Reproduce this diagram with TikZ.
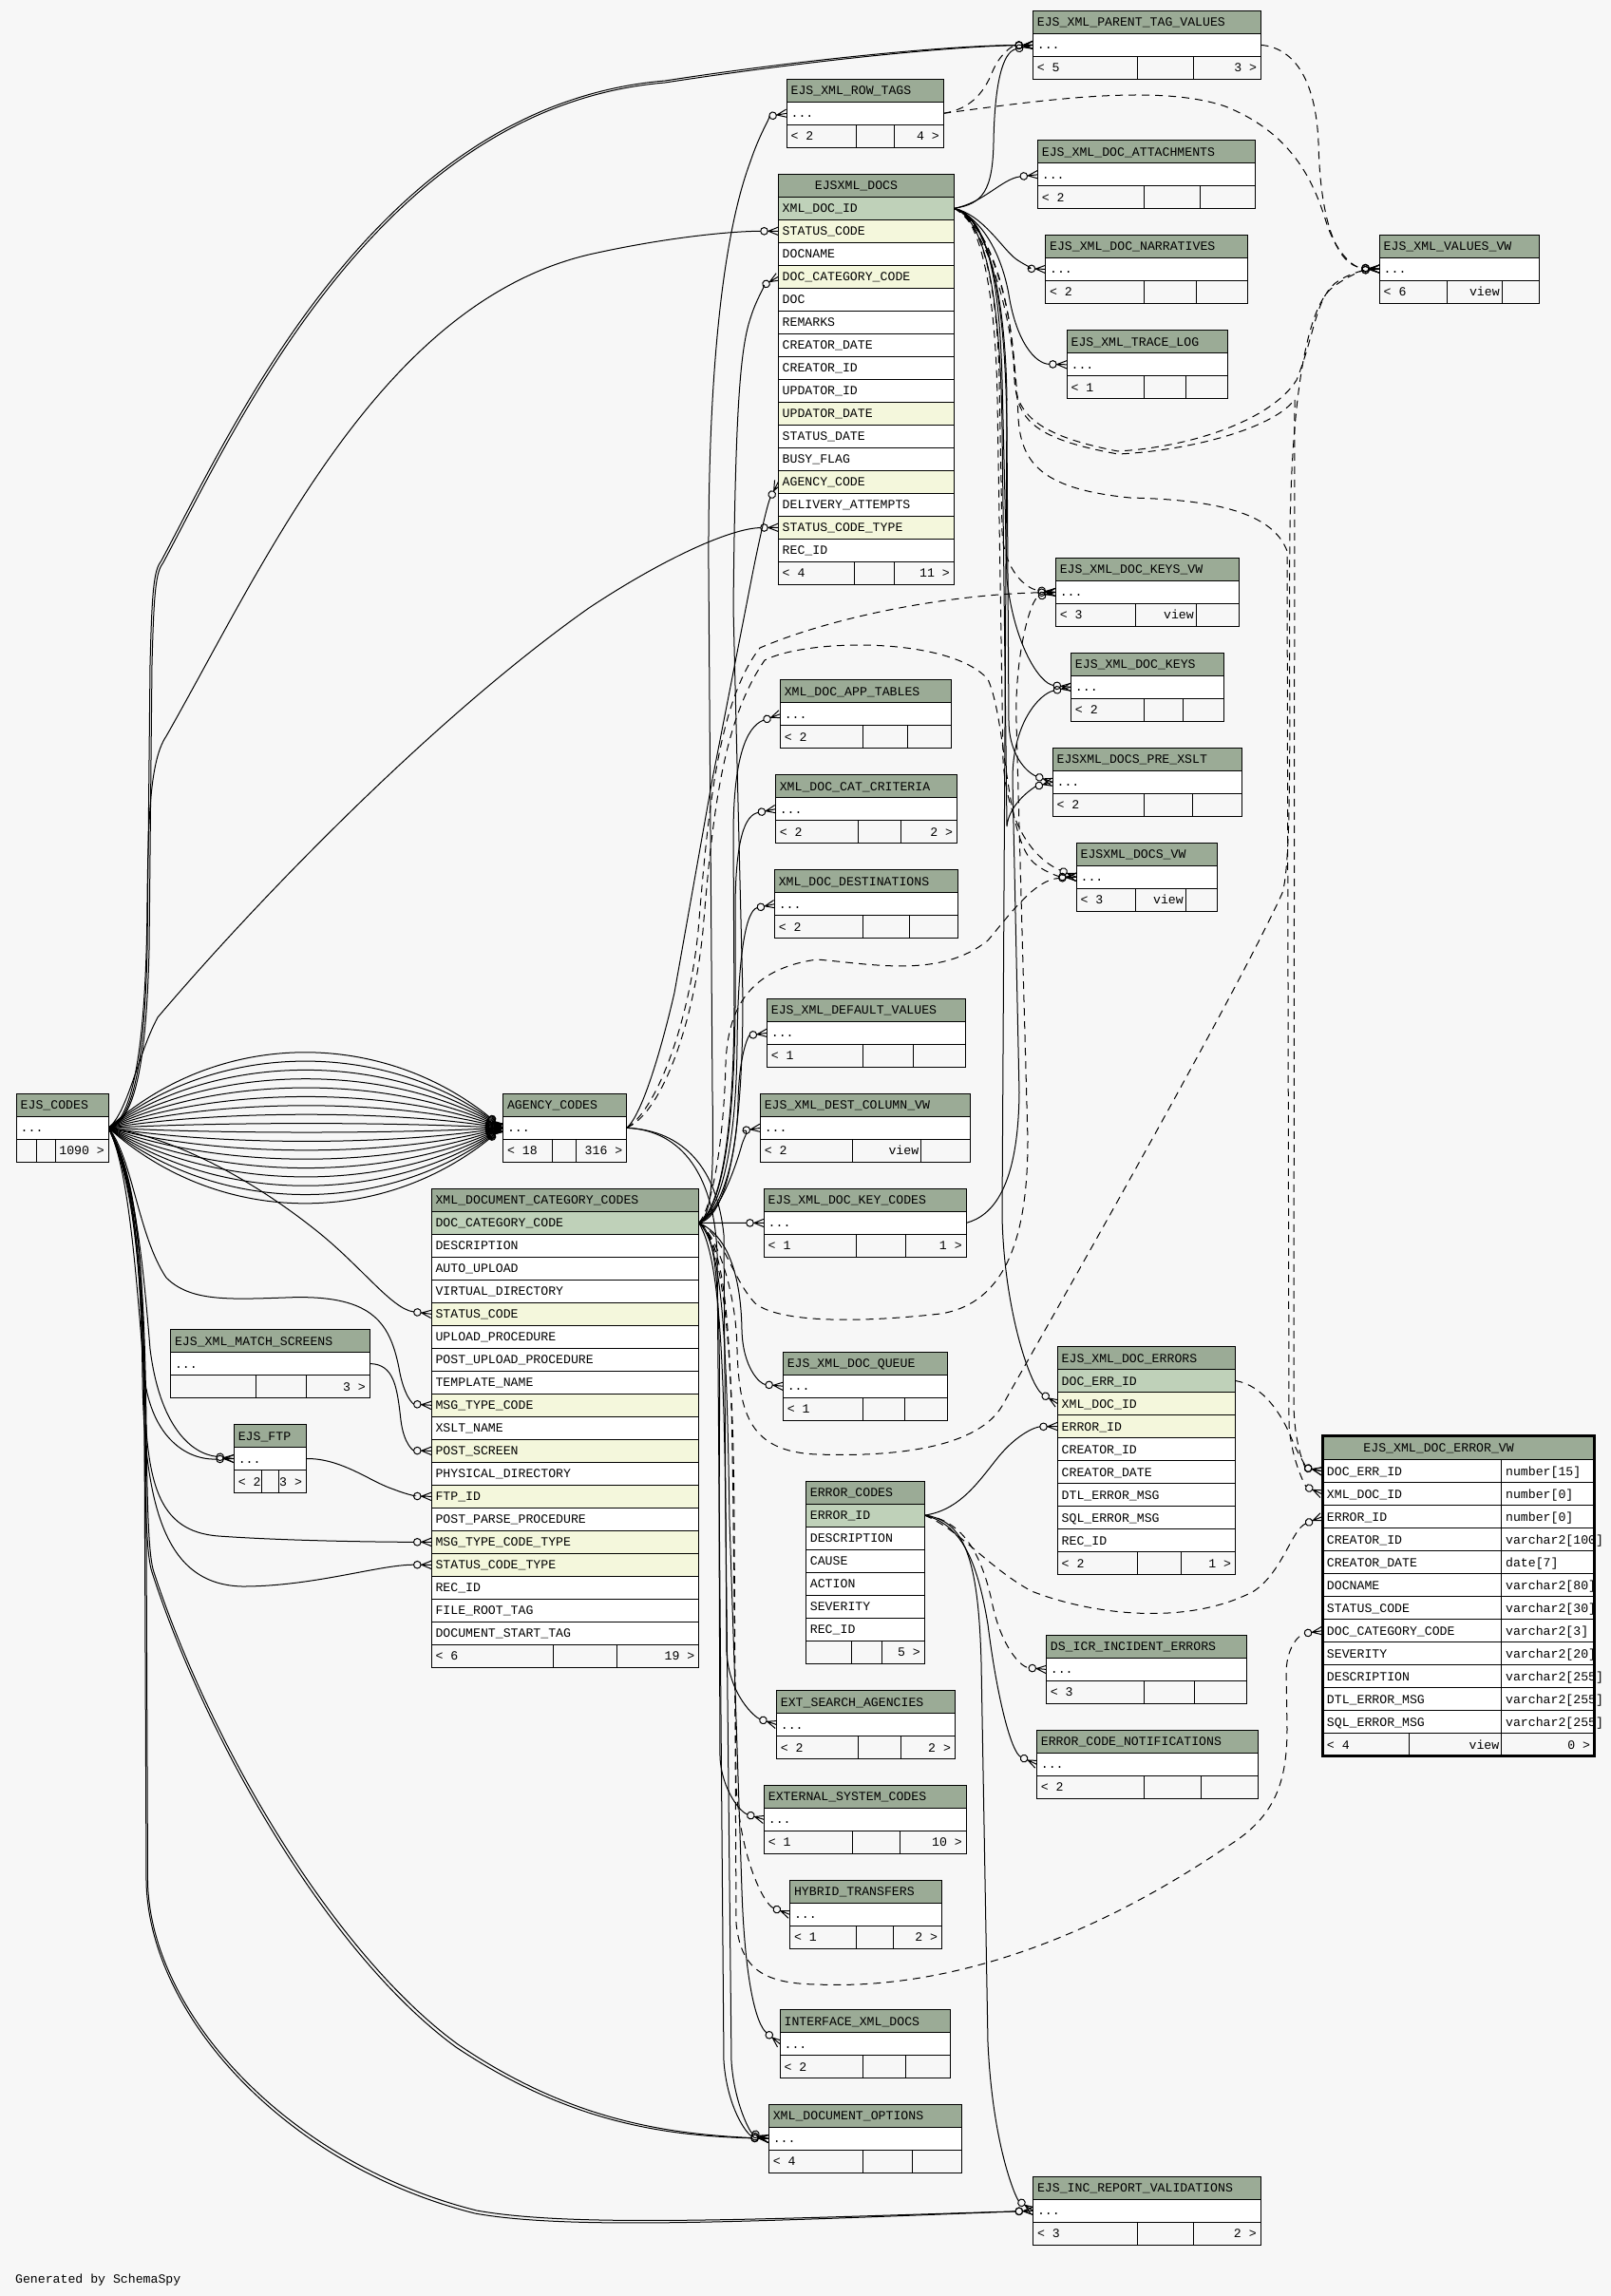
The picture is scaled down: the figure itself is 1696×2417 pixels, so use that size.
\documentclass[tikz,border=0pt]{standalone}
\usepackage{fontspec}
\setmonofont{Liberation Mono}
\usetikzlibrary{arrows.meta}
\definecolor{bgc}{RGB}{247,247,247}
\definecolor{hdrc}{RGB}{155,171,150}
\definecolor{pkc}{RGB}{191,209,185}
\definecolor{fkc}{RGB}{244,247,220}
\pgfdeclarearrow{
  name = crowodot,
  setup code = {
    \pgfarrowssettipend{0pt}
    \pgfarrowssetlineend{-9.3pt}
    \pgfarrowssetbackend{-9.3pt}
    \pgfarrowssetvisualbackend{-9.3pt}
    \pgfarrowsupperhullpoint{0pt}{2.2pt}
    \pgfarrowsupperhullpoint{-9.3pt}{2.2pt}
  },
  drawing code = {
    \pgfsetdash{}{0pt}
    \pgfpathmoveto{\pgfqpoint{0pt}{2.1pt}}
    \pgfpathlineto{\pgfqpoint{-5.2pt}{0pt}}
    \pgfpathlineto{\pgfqpoint{0pt}{-2.1pt}}
    \pgfpathmoveto{\pgfqpoint{-5.5pt}{0pt}}
    \pgfpathlineto{\pgfqpoint{0pt}{0pt}}
    \pgfusepathqstroke
    \pgfpathcircle{\pgfqpoint{-7.4pt}{0pt}}{1.9pt}
    \pgfusepathqstroke
  }
}
\newcommand\erfont{\ttfamily\fontsize{6.6}{7}\selectfont}
\tikzset{
  tl/.style={draw=black, line width=0.5pt},
  tt/.style={anchor=base west, inner sep=0pt, font=\erfont},
  ttr/.style={anchor=base east, inner sep=0pt, font=\erfont},
  fk/.style={draw=black, line width=0.5pt, -{crowodot[]}},
  impl/.style={fk, dash pattern=on 4pt off 3pt},
}
% simple table: id, x, y, w, title, div1, div2, left, right
\newcommand\ersimpleX[9]{%
  \draw[tl,fill=hdrc] (#2,#3) rectangle ++(#4,24);
  \node[tt] (#1-h) at (#2+4,#3+16.5) {#5};
  \draw[tl,fill=white] (#2,#3+24) rectangle ++(#4,24);
  \node[tt] (#1-r) at (#2+4,#3+40.5) {...};
  \draw[tl,fill=bgc] (#2,#3+48) rectangle ++(#4,24);
  \draw[tl] (#6,#3+48) -- ++(0,24) (#7,#3+48) -- ++(0,24);
  \node[tt] (#1-fl) at (#2+4,#3+64.5) {#8};
  \node[ttr] (#1-fm) at (#7-2,#3+64.5) {\ermid};
  \node[ttr] (#1-fr) at (#2+#4-4,#3+64.5) {#9};
}
\newcommand\ersimple{\def\ermid{}\ersimpleX}
\newcommand\ersimplev{\def\ermid{view}\ersimpleX}
% full table: id, x, y, w, title x, title, rows
\newcommand\ertab[7]{%
  \draw[tl,fill=hdrc] (#2,#3) rectangle ++(#4,24);
  \node[tt] (#1-h) at (#5,#3+16.5) {#6};
  \foreach[count=\i] \rc/\rt in {#7} {
    \draw[tl,fill=\rc] (#2,#3+24*\i) rectangle ++(#4,24);
    \node[tt] (#1-r\i) at (#2+4,#3+24*\i+16.5) {\rt};
  }
}
% footer: id, x, y, w, div1, div2, left, mid, right
\newcommand\erfoot[9]{%
  \draw[tl,fill=bgc] (#2,#3) rectangle ++(#4,24);
  \draw[tl] (#5,#3) -- ++(0,24) (#6,#3) -- ++(0,24);
  \node[tt] (#1-fl) at (#2+4,#3+16.5) {#7};
  \node[ttr] (#1-fm) at (#6-2,#3+16.5) {#8};
  \node[ttr] (#1-fr) at (#2+#4-4,#3+16.5) {#9};
}
\begin{document}
\begin{tikzpicture}[x=0.5pt,y=-0.5pt]
\useasboundingbox (0,0) rectangle (1696,2417);
\fill[bgc] (0,0) rectangle (1696,2417);

% ---------- anchors ----------
\coordinate (EJS-out) at (114.3,1187.3);
\coordinate (AG-in) at (529.6,1187.3);
\coordinate (AG-out) at (659.7,1187.3);
\coordinate (XD-out) at (735.7,1287.3);
\coordinate (DOCS-out) at (1004.3,219.3);
\coordinate (EC-out) at (973.3,1595.1);
\coordinate (ERRS-out) at (1300.5,1453.5);
\coordinate (FTP-out) at (322.4,1535.5);
\coordinate (MS-out) at (389.3,1435.5);
\coordinate (ROWT-out) at (993.2,119.3);
\coordinate (PTV-out) at (1327.5,47.4);
\coordinate (KC-out) at (1017.1,1287.4);
\coordinate (PTV-in) at (1087.5,47.4);
\coordinate (ROWT-in) at (828.2,119.3);
\coordinate (DOCS-sc) at (819.3,243.3);
\coordinate (DOCS-dcc) at (819.3,291.3);
\coordinate (DOCS-ag) at (819.3,507.3);
\coordinate (DOCS-sct) at (819.3,555.3);
\coordinate (ATT-in) at (1092.5,183.8);
\coordinate (NARR-in) at (1100.7,283.4);
\coordinate (TRACE-in) at (1123.2,383.8);
\coordinate (VALVW-in) at (1452.3,283.1);
\coordinate (KEYSVW-in) at (1111.4,623.4);
\coordinate (KEYS-in) at (1127.5,723.3);
\coordinate (PRE-in) at (1108.2,823.3);
\coordinate (DOCSVW-in) at (1133.2,923.3);
\coordinate (APP-in) at (821.4,751.7);
\coordinate (CRIT-in) at (816.4,851.7);
\coordinate (DEST-in) at (815.4,951.7);
\coordinate (DEFV-in) at (807.5,1087.4);
\coordinate (DCVW-in) at (800.4,1187.4);
\coordinate (KC-in) at (804.3,1287.4);
\coordinate (QUEUE-in) at (824.4,1459.2);
\coordinate (ERRS-xid) at (1113.3,1477.5);
\coordinate (ERRS-eid) at (1113.3,1501.5);
\coordinate (DSICR-in) at (1101.5,1757.4);
\coordinate (ECN-in) at (1091.5,1857.3);
\coordinate (EXTS-in) at (817.5,1815.5);
\coordinate (EXTSYS-in) at (804.5,1915.4);
\coordinate (HYB-in) at (831.6,2015.4);
\coordinate (IXD-in) at (821.2,2151.7);
\coordinate (XDO-in) at (809.4,2251.4);
\coordinate (INC-in) at (1087.6,2327.3);
\coordinate (VW-de) at (1391.7,1548.7);
\coordinate (VW-xid) at (1391.7,1572.7);
\coordinate (VW-eid) at (1391.7,1596.7);
\coordinate (VW-dcc) at (1391.7,1716.7);
\coordinate (XD-sc) at (454.1,1383.3);
\coordinate (XD-mtc) at (454.1,1479.3);
\coordinate (XD-ps) at (454.1,1527.3);
\coordinate (XD-ftp) at (454.1,1575.3);
\coordinate (XD-mtct) at (454.1,1623.3);
\coordinate (XD-sct) at (454.1,1647.3);
\coordinate (FTP-in) at (246.4,1535.5);

% ---------- EJS_CODES connectors ----------
\foreach \k in {0,...,17} {
  \pgfmathsetmacro\hh{(-78+\k*9.1765)*1.3333}
  \draw[fk] (EJS-out) .. controls (230,{1187.3+(\hh)}) and (400,{1187.3+(\hh)}) .. (AG-in);
}
\draw[fk] (EJS-out) .. controls (140,1180) and (152,1120) .. (155,1000) -- (158,700) .. controls (160,620) and (162,600) .. (170,590) .. controls (250,440) and (400,110) .. (700,85) .. controls (850,62) and (1000,48) .. (PTV-in);
\draw[fk] (EJS-out) .. controls (142,1180) and (154,1120) .. (157,1000) -- (160,700) .. controls (162,622) and (164,602) .. (172,592) .. controls (252,442) and (402,112) .. (700,87) .. controls (850,64) and (1000,49) .. (PTV-in);
\draw[fk] (EJS-out) .. controls (140,1180) and (154,1100) .. (155,950) .. controls (156,860) and (158,800) .. (175,775) .. controls (280,590) and (400,320) .. (620,268) .. controls (700,250) and (770,243.3) .. (DOCS-sc);
\draw[fk] (EJS-out) .. controls (135,1170) and (145,1110) .. (166,1071) .. controls (260,960) and (450,760) .. (620,640) .. controls (700,587) and (770,556) .. (DOCS-sct);
\draw[fk] (EJS-out) .. controls (170,1195) and (250,1230) .. (330,1293) .. controls (380,1332) and (412,1378) .. (XD-sc);
\draw[fk] (EJS-out) .. controls (140,1220) and (145,1300) .. (175,1345) .. controls (200,1370) and (240,1368) .. (300,1366) .. controls (390,1362) and (410,1390) .. (420,1440) .. controls (425,1470) and (435,1478) .. (XD-mtc);
\draw[fk] (MS-out) .. controls (415,1436) and (418,1460) .. (422,1495) .. controls (425,1520) and (435,1527) .. (XD-ps);
\draw[fk] (FTP-out) .. controls (360,1535) and (390,1560) .. (415,1568) .. controls (430,1574) and (440,1575) .. (XD-ftp);
\draw[fk] (EJS-out) .. controls (140,1230) and (150,1300) .. (152,1450) .. controls (153,1560) and (165,1612) .. (230,1617) .. controls (300,1622) and (400,1623.3) .. (XD-mtct);
\draw[fk] (EJS-out) .. controls (138,1230) and (148,1300) .. (150,1450) .. controls (152,1600) and (180,1668) .. (255,1670) .. controls (330,1670) and (400,1647) .. (XD-sct);
\draw[fk] (EJS-out) .. controls (140,1230) and (150,1320) .. (158,1420) .. controls (168,1500) and (200,1530) .. (FTP-in);
\draw[fk] (EJS-out) .. controls (136,1230) and (144,1350) .. (152,1450) .. controls (160,1512) and (195,1537) .. (FTP-in);
\draw[fk] (EJS-out) .. controls (140,1240) and (150,1320) .. (152,1500) .. controls (153,1600) and (155,1640) .. (160,1655) .. controls (220,1840) and (350,2060) .. (480,2155) .. controls (600,2235) and (700,2248) .. (XDO-in);
\draw[fk] (EJS-out) .. controls (142,1240) and (152,1320) .. (154,1500) .. controls (155,1600) and (157,1640) .. (162,1655) .. controls (222,1838) and (352,2057) .. (482,2152) .. controls (600,2232) and (700,2246) .. (XDO-in);
\draw[fk] (EJS-out) .. controls (138,1240) and (150,1320) .. (152,1500) -- (154,1980) .. controls (156,2120) and (300,2280) .. (500,2330) .. controls (600,2348) and (800,2338) .. (INC-in);
\draw[fk] (EJS-out) .. controls (139,1240) and (151,1320) .. (153.5,1500) -- (155.5,1980) .. controls (157.5,2118) and (302,2277) .. (502,2327) .. controls (602,2345) and (800,2336) .. (INC-in);

% ---------- AGENCY_CODES connectors ----------
\draw[fk] (AG-out) .. controls (675,1175) and (695,1110) .. (710,1045) -- (750,820) -- (793,600) .. controls (800,565) and (808,530) .. (DOCS-ag);
\draw[fk] (AG-out) .. controls (720,1190) and (755,1230) .. (762,1300) -- (765,1740) .. controls (768,1785) and (795,1808) .. (EXTS-in);
\draw[fk] (AG-out) .. controls (720,1190) and (752,1240) .. (755,1320) -- (762,2170) .. controls (766,2222) and (788,2248) .. (XDO-in);
\draw[impl] (AG-out) .. controls (690,1170) and (725,1080) .. (735,980) .. controls (745,860) and (755,740) .. (800,682) .. controls (880,648) and (1000,626) .. (KEYSVW-in);
\draw[impl] (AG-out) .. controls (696,1172) and (730,1080) .. (740,980) .. controls (750,860) and (760,760) .. (805,695) .. controls (850,672) and (1000,670) .. (1040,715) .. controls (1060,760) and (1058,880) .. (1088,908) .. controls (1102,920) and (1118,923) .. (DOCSVW-in);

% ---------- XML_DOCUMENT_CATEGORY_CODES connectors ----------
\draw[fk] (XD-out) .. controls (748,1280) and (752,1250) .. (750,1150) -- (746,600) .. controls (745,400) and (760,250) .. (790,170) .. controls (800,140) and (812,122) .. (ROWT-in);
\draw[fk] (XD-out) .. controls (765,1282) and (782,1200) .. (782,1050) -- (772,640) .. controls (774,450) and (778,370) .. (790,335) .. controls (797,312) and (808,298) .. (DOCS-dcc);
\draw[fk] (XD-out) .. controls (758,1272) and (772,1200) .. (773,1060) -- (772,880) .. controls (772,800) and (785,765) .. (APP-in);
\draw[fk] (XD-out) .. controls (758,1274) and (773,1200) .. (774,1060) -- (774,960) .. controls (774,880) and (785,858) .. (CRIT-in);
\draw[fk] (XD-out) .. controls (758,1276) and (775,1210) .. (776,1100) .. controls (777,1000) and (786,958) .. (DEST-in);
\draw[fk] (XD-out) .. controls (758,1278) and (776,1220) .. (777,1160) .. controls (778,1110) and (788,1090) .. (DEFV-in);
\draw[fk] (XD-out) .. controls (758,1280) and (777,1220) .. (781,1205) .. controls (784,1195) and (790,1189) .. (DCVW-in);
\draw[fk] (XD-out) -- (KC-in);
\draw[fk] (XD-out) .. controls (765,1300) and (780,1340) .. (781,1400) .. controls (782,1440) and (800,1457) .. (QUEUE-in);
\draw[fk] (XD-out) .. controls (760,1300) and (758,1400) .. (757,1600) -- (758,1850) .. controls (760,1885) and (780,1908) .. (EXTSYS-in);
\draw[impl] (XD-out) .. controls (765,1310) and (770,1400) .. (772,1600) -- (775,1880) .. controls (780,1960) and (805,2005) .. (HYB-in);
\draw[fk] (XD-out) .. controls (760,1310) and (765,1400) .. (768,1600) -- (781,1990) .. controls (784,2080) and (795,2130) .. (IXD-in);
\draw[fk] (XD-out) .. controls (755,1320) and (762,1400) .. (764,1600) -- (770,2170) .. controls (773,2215) and (790,2245) .. (XDO-in);
\draw[impl] (XD-out) .. controls (750,1272) and (762,1200) .. (764,1120) .. controls (766,1060) and (790,1020) .. (860,1010) .. controls (920,1015) and (990,1030) .. (1040,990) .. controls (1065,960) and (1090,926) .. (DOCSVW-in);
\draw[impl] (XD-out) .. controls (762,1300) and (770,1345) .. (795,1372) .. controls (820,1392) and (900,1393) .. (990,1383) .. controls (1060,1372) and (1082,1300) .. (1082,1200) -- (1070,760) .. controls (1068,690) and (1085,630) .. (KEYSVW-in);
\draw[impl] (XD-out) .. controls (755,1300) and (775,1360) .. (776,1420) .. controls (778,1490) and (790,1528) .. (860,1531) .. controls (950,1534) and (1030,1522) .. (1055,1480) .. controls (1100,1400) and (1300,1050) .. (1350,940) .. controls (1362,900) and (1356,700) .. (1358,560) .. controls (1360,420) and (1375,330) .. (1400,305) .. controls (1420,288) and (1440,284) .. (VALVW-in);
\draw[impl] (XD-out) .. controls (758,1300) and (772,1400) .. (773,1600) -- (775,2025) .. controls (780,2070) and (800,2088) .. (860,2089) .. controls (1000,2095) and (1150,2040) .. (1290,1945) .. controls (1340,1915) and (1355,1880) .. (1355,1820) -- (1354,1760) .. controls (1355,1730) and (1370,1720) .. (VW-dcc);

% ---------- EJSXML_DOCS connectors ----------
\draw[fk] (DOCS-out) .. controls (1035,215) and (1045,200) .. (1046,150) .. controls (1047,90) and (1055,55) .. (PTV-in);
\draw[fk] (DOCS-out) .. controls (1035,214) and (1055,188) .. (ATT-in);
\draw[fk] (DOCS-out) .. controls (1035,226) and (1055,262) .. (1070,273) .. controls (1080,280) and (1090,283) .. (NARR-in);
\draw[fk] (DOCS-out) .. controls (1035,230) and (1055,270) .. (1062,310) .. controls (1070,360) and (1090,383) .. (TRACE-in);
\draw[fk] (DOCS-out) .. controls (1035,225) and (1052,280) .. (1055,400) -- (1060,610) .. controls (1068,680) and (1095,720) .. (KEYS-in);
\draw[impl] (DOCS-out) .. controls (1030,225) and (1050,290) .. (1052,400) -- (1055,560) .. controls (1057,600) and (1080,620) .. (KEYSVW-in);
\draw[fk] (DOCS-out) .. controls (1040,230) and (1058,300) .. (1060,450) -- (1062,760) .. controls (1063,800) and (1085,815) .. (PRE-in);
\draw[fk] (DOCS-out) .. controls (1035,230) and (1053,300) .. (1055,450) -- (1060,870) .. controls (1062,845) and (1090,828) .. (PRE-in);
\draw[impl] (DOCS-out) .. controls (1030,225) and (1048,300) .. (1050,420) -- (1056,800) .. controls (1060,870) and (1090,905) .. (DOCSVW-in);
\draw[fk] (DOCS-out) .. controls (1030,225) and (1058,280) .. (1060,420) -- (1055,1280) .. controls (1057,1380) and (1085,1460) .. (ERRS-xid);
\draw[impl] (DOCS-out) .. controls (1035,230) and (1065,300) .. (1068,400) .. controls (1070,440) and (1100,460) .. (1177,475) .. controls (1260,470) and (1340,440) .. (1365,400) .. controls (1385,350) and (1385,310) .. (1410,295) .. controls (1425,286) and (1440,284) .. (VALVW-in);
\draw[impl] (DOCS-out) .. controls (1035,235) and (1068,320) .. (1072,440) .. controls (1075,490) and (1100,515) .. (1190,524) .. controls (1280,526) and (1340,540) .. (1355,580) -- (1357,1500) .. controls (1360,1540) and (1375,1565) .. (VW-xid);
\draw[impl] (DOCS-out) .. controls (1035,232) and (1066,305) .. (1069,405) .. controls (1071,447) and (1100,464) .. (1177,478) .. controls (1260,474) and (1345,448) .. (1363,420) -- (1362,1480) .. controls (1363,1525) and (1375,1545) .. (VW-de);

% ---------- other connectors ----------
\draw[impl] (ERRS-out) .. controls (1330,1458) and (1350,1490) .. (1360,1515) .. controls (1368,1535) and (1378,1546) .. (VW-de);
\draw[fk] (EC-out) .. controls (1010,1590) and (1030,1560) .. (1050,1535) .. controls (1070,1510) and (1090,1502) .. (ERRS-eid);
\draw[impl] (EC-out) .. controls (1015,1600) and (1035,1640) .. (1045,1690) .. controls (1055,1735) and (1075,1755) .. (DSICR-in);
\draw[fk] (EC-out) .. controls (1015,1605) and (1030,1650) .. (1040,1710) .. controls (1050,1790) and (1065,1845) .. (ECN-in);
\draw[fk] (EC-out) .. controls (1015,1600) and (1030,1640) .. (1033,1750) -- (1040,2150) .. controls (1045,2260) and (1070,2315) .. (INC-in);
\draw[impl] (EC-out) .. controls (1010,1610) and (1040,1650) .. (1086,1675) .. controls (1150,1700) and (1250,1712) .. (1320,1675) .. controls (1350,1655) and (1360,1610) .. (VW-eid);
\draw[fk] (KC-out) .. controls (1045,1280) and (1072,1250) .. (1073,1150) -- (1066,820) .. controls (1066,760) and (1095,730) .. (KEYS-in);
\draw[impl] (ROWT-out) .. controls (1020,115) and (1035,100) .. (1045,75) .. controls (1052,58) and (1065,48) .. (PTV-in);
\draw[impl] (ROWT-out) .. controls (1100,105) and (1220,88) .. (1290,112) .. controls (1360,140) and (1382,190) .. (1395,230) .. controls (1405,265) and (1425,282) .. (VALVW-in);
\draw[impl] (PTV-out) .. controls (1360,50) and (1385,80) .. (1388,150) .. controls (1390,240) and (1410,280) .. (VALVW-in);

% ---------- tables ----------
\ersimple{EJS}{17.3}{1151.3}{97}{EJS\_CODES}{38.8}{58.7}{}{1090 >}
\ersimple{AG}{529.6}{1151.3}{130.1}{AGENCY\_CODES}{581.6}{606.6}{< 18}{316 >}
\ersimple{MS}{179.6}{1399.5}{209.7}{EJS\_XML\_MATCH\_SCREENS}{269.4}{322.4}{}{3 >}
\ersimple{FTP}{246.4}{1499.5}{76}{EJS\_FTP}{275.5}{293.4}{< 2}{3 >}
\ersimple{PTV}{1087.5}{11.4}{240}{EJS\_XML\_PARENT\_TAG\_VALUES}{1197.5}{1256.7}{< 5}{3 >}
\ersimple{ROWT}{828.2}{83.3}{165}{EJS\_XML\_ROW\_TAGS}{901.4}{941.4}{< 2}{4 >}
\ersimple{ATT}{1092.5}{147.8}{228.9}{EJS\_XML\_DOC\_ATTACHMENTS}{1204.3}{1263.2}{< 2}{}
\ersimple{NARR}{1100.7}{247.4}{212.5}{EJS\_XML\_DOC\_NARRATIVES}{1204.3}{1259.3}{< 2}{}
\ersimple{TRACE}{1123.2}{347.8}{168.9}{EJS\_XML\_TRACE\_LOG}{1204.3}{1248.2}{< 1}{}
\ersimplev{VALVW}{1452.3}{247.1}{167.8}{EJS\_XML\_VALUES\_VW}{1523.4}{1581.1}{< 6}{}
\ersimplev{KEYSVW}{1111.4}{587.4}{192.9}{EJS\_XML\_DOC\_KEYS\_VW}{1195.3}{1259.2}{< 3}{}
\ersimple{KEYS}{1127.5}{687.3}{160.7}{EJS\_XML\_DOC\_KEYS}{1204.6}{1245.3}{< 2}{}
\ersimple{PRE}{1108.2}{787.3}{198.9}{EJSXML\_DOCS\_PRE\_XSLT}{1204.2}{1255.3}{< 2}{}
\ersimplev{DOCSVW}{1133.2}{887.3}{148.2}{EJSXML\_DOCS\_VW}{1195.3}{1248.2}{< 3}{}
\ersimple{APP}{821.4}{715.7}{180}{XML\_DOC\_APP\_TABLES}{908.2}{955.4}{< 2}{}
\ersimple{CRIT}{816.4}{815.7}{191.1}{XML\_DOC\_CAT\_CRITERIA}{903.2}{948.2}{< 2}{2 >}
\ersimple{DEST}{815.4}{915.7}{192.8}{XML\_DOC\_DESTINATIONS}{908.2}{957.5}{< 2}{}
\ersimple{DEFV}{807.5}{1051.4}{208.9}{EJS\_XML\_DEFAULT\_VALUES}{908.2}{961.8}{< 1}{}
\ersimplev{DCVW}{800.4}{1151.4}{221}{EJS\_XML\_DEST\_COLUMN\_VW}{897.5}{969.6}{< 2}{}
\ersimple{KC}{804.3}{1251.4}{212.8}{EJS\_XML\_DOC\_KEY\_CODES}{901.8}{953.6}{< 1}{1 >}
\ersimple{QUEUE}{824.4}{1423.2}{173}{EJS\_XML\_DOC\_QUEUE}{908.6}{952.6}{< 1}{}
\ersimple{DSICR}{1101.5}{1721.4}{210.8}{DS\_ICR\_INCIDENT\_ERRORS}{1204.4}{1257.6}{< 3}{}
\ersimple{ECN}{1091.5}{1821.3}{232.7}{ERROR\_CODE\_NOTIFICATIONS}{1204.4}{1264.5}{< 2}{}
\ersimple{EXTS}{817.5}{1779.5}{187.9}{EXT\_SEARCH\_AGENCIES}{903.2}{948.4}{< 2}{2 >}
\ersimple{EXTSYS}{804.5}{1879.4}{212.8}{EXTERNAL\_SYSTEM\_CODES}{897.5}{947.2}{< 1}{10 >}
\ersimple{HYB}{831.6}{1979.4}{159.9}{HYBRID\_TRANSFERS}{901.2}{940.2}{< 1}{2 >}
\ersimple{IXD}{821.2}{2115.7}{179.1}{INTERFACE\_XML\_DOCS}{908.5}{953.6}{< 2}{}
\ersimple{XDO}{809.4}{2215.4}{203.2}{XML\_DOCUMENT\_OPTIONS}{908.5}{960.5}{< 4}{}
\ersimple{INC}{1087.6}{2291.3}{239.5}{EJS\_INC\_REPORT\_VALIDATIONS}{1197.4}{1256.4}{< 3}{2 >}

\ertab{DOCS}{819.3}{183.3}{185}{857.5}{EJSXML\_DOCS}{pkc/XML\_DOC\_ID, fkc/STATUS\_CODE, white/DOCNAME, fkc/DOC\_CATEGORY\_CODE, white/DOC, white/REMARKS, white/CREATOR\_DATE, white/CREATOR\_ID, white/UPDATOR\_ID, fkc/UPDATOR\_DATE, white/STATUS\_DATE, white/BUSY\_FLAG, fkc/AGENCY\_CODE, white/DELIVERY\_ATTEMPTS, fkc/STATUS\_CODE\_TYPE, white/REC\_ID}
\erfoot{DOCS}{819.3}{591.3}{185}{899.3}{941.4}{< 4}{}{11 >}

\ertab{XD}{454.1}{1251.3}{281.6}{458.1}{XML\_DOCUMENT\_CATEGORY\_CODES}{pkc/DOC\_CATEGORY\_CODE, white/DESCRIPTION, white/AUTO\_UPLOAD, white/VIRTUAL\_DIRECTORY, fkc/STATUS\_CODE, white/UPLOAD\_PROCEDURE, white/POST\_UPLOAD\_PROCEDURE, white/TEMPLATE\_NAME, fkc/MSG\_TYPE\_CODE, white/XSLT\_NAME, fkc/POST\_SCREEN, white/PHYSICAL\_DIRECTORY, fkc/FTP\_ID, white/POST\_PARSE\_PROCEDURE, fkc/MSG\_TYPE\_CODE\_TYPE, fkc/STATUS\_CODE\_TYPE, white/REC\_ID, white/FILE\_ROOT\_TAG, white/DOCUMENT\_START\_TAG}
\erfoot{XD}{454.1}{1731.3}{281.6}{582.7}{649.5}{< 6}{}{19 >}

\ertab{ERRS}{1113.3}{1417.5}{187.2}{1117.3}{EJS\_XML\_DOC\_ERRORS}{pkc/DOC\_ERR\_ID, fkc/XML\_DOC\_ID, fkc/ERROR\_ID, white/CREATOR\_ID, white/CREATOR\_DATE, white/DTL\_ERROR\_MSG, white/SQL\_ERROR\_MSG, white/REC\_ID}
\erfoot{ERRS}{1113.3}{1633.5}{187.2}{1197.5}{1243.5}{< 2}{}{1 >}

\ertab{EC}{848.5}{1559.1}{124.8}{852.5}{ERROR\_CODES}{pkc/ERROR\_ID, white/DESCRIPTION, white/CAUSE, white/ACTION, white/SEVERITY, white/REC\_ID}
\erfoot{EC}{848.5}{1727.1}{124.8}{896.3}{928.5}{}{}{5 >}

% EJS_XML_DOC_ERROR_VW (view, thick border)
\draw[tl,fill=hdrc] (1392.5,1511) rectangle (1678.5,1536.7);
\node[tt] (VW-h) at (1435,1528.5) {EJS\_XML\_DOC\_ERROR\_VW};
\foreach[count=\i] \ca/\cb in {DOC\_ERR\_ID/number[15], XML\_DOC\_ID/number[0], ERROR\_ID/number[0], CREATOR\_ID/varchar2[100], CREATOR\_DATE/date[7], DOCNAME/varchar2[80], STATUS\_CODE/varchar2[30], DOC\_CATEGORY\_CODE/varchar2[3], SEVERITY/varchar2[20], DESCRIPTION/varchar2[255], DTL\_ERROR\_MSG/varchar2[255], SQL\_ERROR\_MSG/varchar2[255]} {
  \draw[tl,fill=white] (1392.5,1512.7+24*\i) rectangle (1678.5,1536.7+24*\i);
  \draw[tl] (1580.7,1512.7+24*\i) -- ++(0,24);
  \node[tt] (VW-c\i) at (1396.5,1529.2+24*\i) {\ca};
  \node[tt] (VW-t\i) at (1584.7,1529.2+24*\i) {\cb};
}
\draw[tl,fill=bgc] (1392.5,1824.7) rectangle (1678.5,1848);
\draw[tl] (1483.3,1824.7) -- (1483.3,1848) (1580.7,1824.7) -- (1580.7,1848);
\node[tt] (VW-fl) at (1396.5,1841.2) {< 4};
\node[ttr] (VW-fm) at (1578.7,1841.2) {view};
\node[ttr] (VW-fr) at (1674.5,1841.2) {0 >};
\draw[line width=1.5pt] (1392.5,1511) rectangle (1678.5,1848);

\node[tt] (gen) at (15.7,2403) {Generated by SchemaSpy};
\end{tikzpicture}
\end{document}
